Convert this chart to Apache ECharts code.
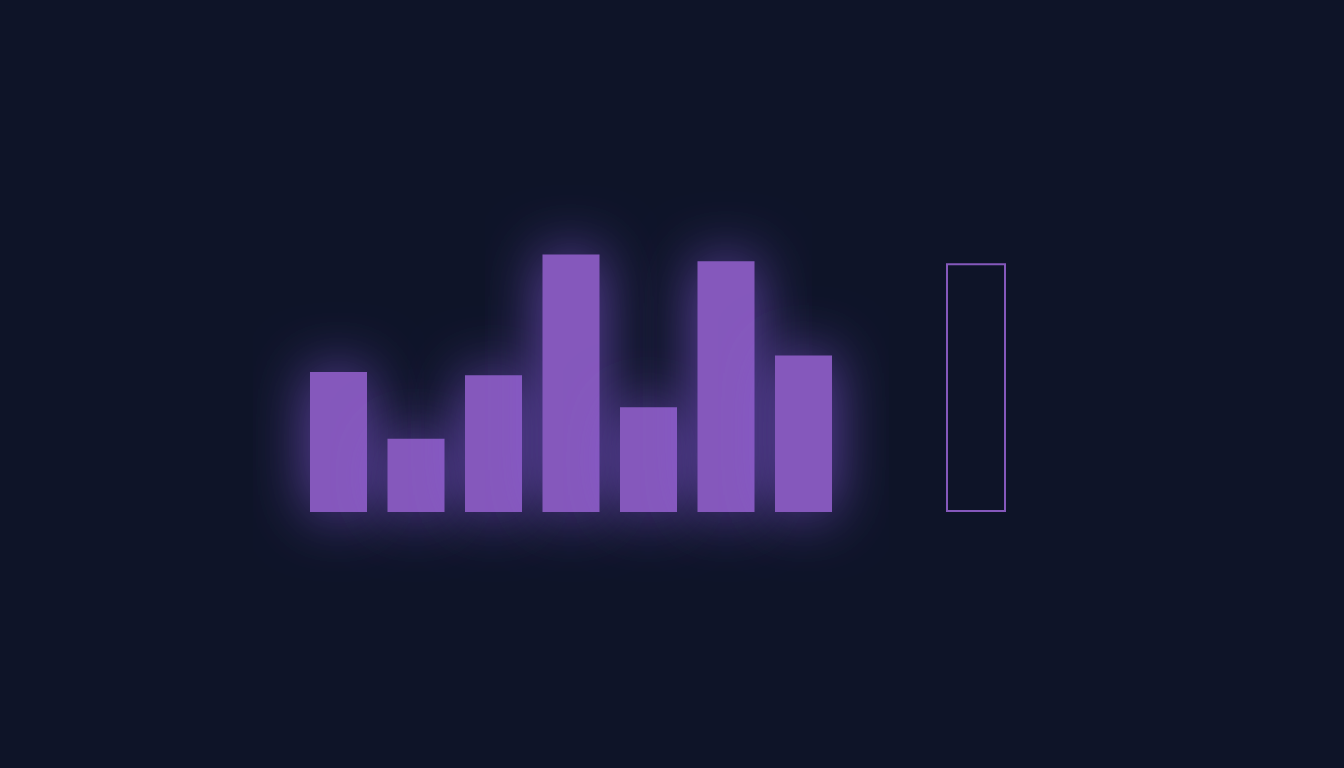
<!DOCTYPE html>
<html>
<head>
<meta charset="utf-8">
<script src="https://cdn.jsdelivr.net/npm/echarts@6/dist/echarts.min.js"></script>
<style>
html,body{margin:0;padding:0;background:#0e1428;}
#c{width:1344px;height:768px;}
</style>
</head>
<body>
<div id="c"></div>
<script>
var categories = ['A','B','C','D','E','F','G'];
var values = [54.3, 28.4, 53.0, 99.8, 40.6, 97.2, 60.7];
var targetCategories = ['H'];
var targetValues = [96.4];

var chart = echarts.init(document.getElementById('c'), null, {renderer: 'svg'});
chart.setOption({
  backgroundColor: '#0e1428',
  animation: false,
  grid: [
    {left: 299.75, width: 542.5, top: 254, height: 258},
    {left: 945.5, width: 61, top: 254, height: 258}
  ],
  xAxis: [
    {type: 'category', data: categories, gridIndex: 0, show: false},
    {type: 'category', data: targetCategories, gridIndex: 1, show: false}
  ],
  yAxis: [
    {type: 'value', min: 0, max: 100, gridIndex: 0, show: false},
    {type: 'value', min: 0, max: 100, gridIndex: 1, show: false}
  ],
  series: [
    {
      type: 'bar', xAxisIndex: 0, yAxisIndex: 0,
      data: values,
      barWidth: 57,
      itemStyle: {
        color: '#8558bc',
        shadowColor: 'rgba(133,88,220,0.75)',
        shadowBlur: 60
      }
    },
    {
      type: 'bar', xAxisIndex: 1, yAxisIndex: 1,
      data: targetValues,
      barWidth: 60,
      itemStyle: {
        color: 'rgba(14,20,40,0)',
        borderColor: '#8558bc',
        borderWidth: 2
      }
    }
  ]
});
</script>
</body>
</html>
